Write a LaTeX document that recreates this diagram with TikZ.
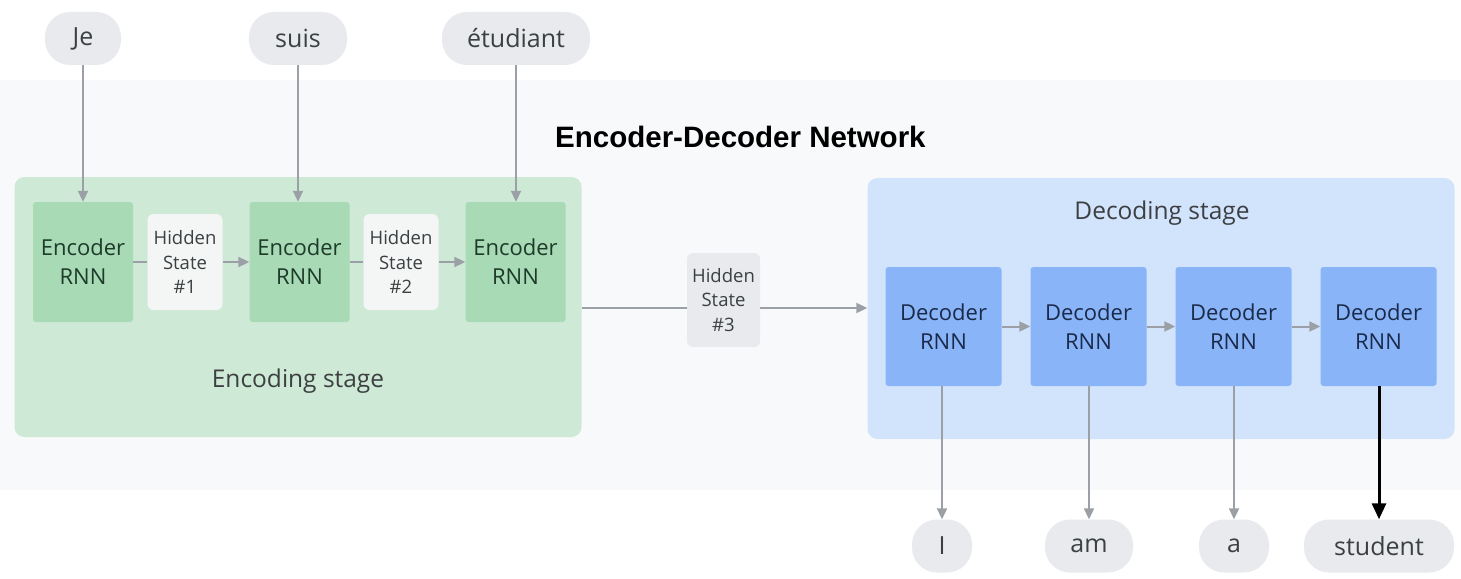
\documentclass[tikz,border=0pt]{standalone}
\usepackage{fontspec}
\setmainfont{Open Sans}
\newfontfamily\titlefont{Liberation Sans}
\usetikzlibrary{arrows.meta}
\definecolor{bandc}{HTML}{F8F9FA}
\definecolor{encbg}{HTML}{CEEAD6}
\definecolor{encbox}{HTML}{A8DAB5}
\definecolor{hidc}{HTML}{F3F6F4}
\definecolor{hid3c}{HTML}{E8EAED}
\definecolor{decbg}{HTML}{D2E3FC}
\definecolor{decbox}{HTML}{8AB4F8}
\definecolor{pillc}{HTML}{E8EAED}
\definecolor{arrc}{HTML}{9AA0A6}
\definecolor{txtc}{HTML}{3C4043}
\definecolor{enctxt}{HTML}{1E3A2A}
\definecolor{dectxt}{HTML}{1A2A4A}
\tikzset{
  pill/.style={fill=pillc, rounded corners=25pt, minimum height=53pt, inner sep=0pt, font=\fontsize{25}{25}\selectfont, text=txtc},
  encbox/.style={fill=encbox, rounded corners=3pt, minimum width=100pt, minimum height=120pt, align=center, font=\fontsize{22}{29}\selectfont, text=enctxt, inner sep=0pt},
  decboxs/.style={fill=decbox, rounded corners=3pt, minimum width=116pt, minimum height=119pt, align=center, font=\fontsize{22}{29}\selectfont, text=dectxt, inner sep=0pt},
  hidbox/.style={fill=hidc, rounded corners=6pt, minimum width=75pt, minimum height=96pt, align=center, font=\fontsize{18.5}{24.5}\selectfont, text=txtc, inner sep=0pt},
  conn/.style={draw=arrc, line width=2pt},
  arr/.style={conn, -{Triangle[length=11pt,width=10pt]}},
}
\begin{document}
\begin{tikzpicture}[x=1pt,y=-1pt]
\useasboundingbox (0,0) rectangle (1461,578);
\fill[white] (0,0) rectangle (1461,578);
\fill[bandc] (0,80) rectangle (1461,490);
% big stage boxes
\node[fill=encbg, rounded corners=10pt, minimum width=567pt, minimum height=260pt, inner sep=0pt] (encstage) at (298,307) {};
\node[fill=decbg, rounded corners=10pt, minimum width=587pt, minimum height=261pt, inner sep=0pt] (decstage) at (1161,308.5) {};
\node[font=\fontsize{24.5}{24.5}\selectfont, text=txtc] (enclabel) at (298,381) {Encoding stage};
\node[font=\fontsize{24.5}{24.5}\selectfont, text=txtc] (declabel) at (1162,213) {Decoding stage};
% title
\node[font=\titlefont\bfseries\fontsize{29.5}{29.5}\selectfont, text=black, anchor=west, inner sep=0pt] (title) at (555,137) {Encoder-Decoder Network};
% input pills
\node[pill, minimum width=76pt] (je) at (83,38.5) {Je};
\node[pill, minimum width=98pt] (suis) at (298,38.5) {suis};
\node[pill, minimum width=148pt] (etud) at (516,38.5) {étudiant};
% encoder boxes
\node[encbox] (e1) at (83,262) {Encoder\\RNN};
\node[encbox] (e2) at (299.5,262) {Encoder\\RNN};
\node[encbox] (e3) at (515.5,262) {Encoder\\RNN};
\node[hidbox] (h1) at (185,262) {Hidden\\State\\\#1};
\node[hidbox] (h2) at (401,262) {Hidden\\State\\\#2};
% hidden state 3
\node[hidbox, fill=hid3c, minimum width=73pt, minimum height=94pt] (h3) at (723.5,300) {Hidden\\State\\\#3};
% decoder boxes
\node[decboxs] (d1) at (943.5,326.5) {Decoder\\RNN};
\node[decboxs] (d2) at (1088.5,326.5) {Decoder\\RNN};
\node[decboxs] (d3) at (1233.5,326.5) {Decoder\\RNN};
\node[decboxs] (d4) at (1378.5,326.5) {Decoder\\RNN};
% output pills
\node[pill, minimum width=60pt] (o1) at (942,546) {I};
\node[pill, minimum width=88pt] (o2) at (1089,546) {am};
\node[pill, minimum width=70pt] (o3) at (1234,546) {a};
\node[pill, minimum width=150pt] (o4) at (1379,546) {student};
% input arrows
\draw[arr] (je.south) -- (e1.north);
\draw[arr] (suis.south) -- (suis.south |- e2.north);
\draw[arr] (etud.south) -- (etud.south |- e3.north);
% encoder chain
\draw[conn] (e1.east) -- (h1.west);
\draw[arr] (h1.east) -- (e2.west);
\draw[conn] (e2.east) -- (h2.west);
\draw[arr] (h2.east) -- (e3.west);
% to decoder
\draw[conn] (encstage.east |- 0,308) -- (h3.west |- 0,308);
\draw[arr] (h3.east |- 0,308) -- (decstage.west |- 0,308);
% decoder chain
\draw[arr] (d1.east) -- (d2.west);
\draw[arr] (d2.east) -- (d3.west);
\draw[arr] (d3.east) -- (d4.west);
% outputs
\draw[arr] (d1.south -| o1.north) -- (o1.north);
\draw[arr] (d2.south -| o2.north) -- (o2.north);
\draw[arr] (d3.south -| o3.north) -- (o3.north);
\draw[draw=black, line width=3pt, -{Triangle[length=16pt,width=14pt]}] (d4.south -| o4.north) -- (o4.north);
\end{tikzpicture}
\end{document}
